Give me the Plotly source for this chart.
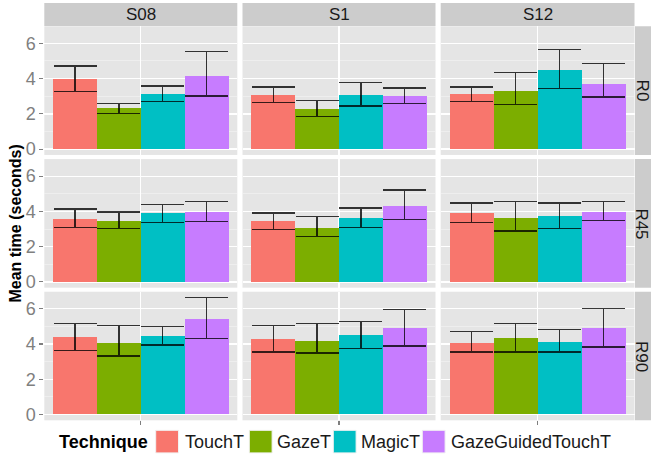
import plotly.graph_objects as go

# ---------------- data ----------------
subjects = ["S08", "S1", "S12"]
rotations = ["R0", "R45", "R90"]
techniques = ["TouchT", "GazeT", "MagicT", "GazeGuidedTouchT"]
colors = ["#F8766D", "#7CAE00", "#00BFC4", "#C77CFF"]

# mean time per (rotation, subject) -> list over techniques
mean_R0_S08 = [3.96, 2.36, 3.15, 4.13]
mean_R0_S1 = [3.08, 2.28, 3.08, 3.02]
mean_R0_S12 = [3.13, 3.32, 4.47, 3.72]
mean_R45_S08 = [3.58, 3.45, 3.91, 3.98]
mean_R45_S1 = [3.47, 3.08, 3.62, 4.32]
mean_R45_S12 = [3.91, 3.62, 3.74, 3.98]
mean_R90_S08 = [4.38, 4.08, 4.43, 5.45]
mean_R90_S1 = [4.26, 4.19, 4.49, 4.89]
mean_R90_S12 = [4.08, 4.32, 4.13, 4.89]

upper_R0_S08 = [4.72, 2.60, 3.58, 5.55]
upper_R0_S1 = [3.53, 2.74, 3.77, 3.47]
upper_R0_S12 = [3.53, 4.34, 5.64, 4.85]
upper_R45_S08 = [4.13, 3.96, 4.40, 4.58]
upper_R45_S1 = [3.91, 3.72, 4.19, 5.21]
upper_R45_S12 = [4.47, 4.55, 4.47, 4.55]
upper_R90_S08 = [5.15, 5.04, 4.98, 6.64]
upper_R90_S1 = [5.04, 5.15, 5.28, 5.96]
upper_R90_S12 = [4.70, 5.15, 4.81, 6.02]

lower_R0_S08 = [3.25, 2.04, 2.72, 3.02]
lower_R0_S1 = [2.66, 1.85, 2.45, 2.60]
lower_R0_S12 = [2.72, 2.53, 3.42, 2.96]
lower_R45_S08 = [3.08, 3.02, 3.38, 3.42]
lower_R45_S1 = [2.96, 2.57, 3.08, 3.55]
lower_R45_S12 = [3.38, 2.89, 3.04, 3.49]
lower_R90_S08 = [3.62, 3.32, 3.94, 4.30]
lower_R90_S1 = [3.55, 3.49, 3.74, 3.89]
lower_R90_S12 = [3.55, 3.55, 3.55, 3.83]

means = {
    ("R0", "S08"): mean_R0_S08, ("R0", "S1"): mean_R0_S1, ("R0", "S12"): mean_R0_S12,
    ("R45", "S08"): mean_R45_S08, ("R45", "S1"): mean_R45_S1, ("R45", "S12"): mean_R45_S12,
    ("R90", "S08"): mean_R90_S08, ("R90", "S1"): mean_R90_S1, ("R90", "S12"): mean_R90_S12,
}
uppers = {
    ("R0", "S08"): upper_R0_S08, ("R0", "S1"): upper_R0_S1, ("R0", "S12"): upper_R0_S12,
    ("R45", "S08"): upper_R45_S08, ("R45", "S1"): upper_R45_S1, ("R45", "S12"): upper_R45_S12,
    ("R90", "S08"): upper_R90_S08, ("R90", "S1"): upper_R90_S1, ("R90", "S12"): upper_R90_S12,
}
lowers = {
    ("R0", "S08"): lower_R0_S08, ("R0", "S1"): lower_R0_S1, ("R0", "S12"): lower_R0_S12,
    ("R45", "S08"): lower_R45_S08, ("R45", "S1"): lower_R45_S1, ("R45", "S12"): lower_R45_S12,
    ("R90", "S08"): lower_R90_S08, ("R90", "S1"): lower_R90_S1, ("R90", "S12"): lower_R90_S12,
}

y_ticks = [0, 2, 4, 6]

# ---------------- layout geometry (pixels) ----------------
W, H = 651, 459
FONT = "Liberation Sans, Arial, sans-serif"
col_px = [(44.3, 237.3), (242.5, 435.5), (440.7, 634.5)]
row_px = [(26.5, 156.3), (160.5, 290.2), (294.3, 424.0)]


def fx(px):
    return px / W


def fy(py):
    return 1 - py / H


bar_w = 0.225
x_pos = [1 - 1.5 * bar_w, 1 - 0.5 * bar_w, 1 + 0.5 * bar_w, 1 + 1.5 * bar_w]
x_range = [0.505, 1.495]
y_range = [-0.33, 6.97]

fig = go.Figure()
layout = dict(
    width=W, height=H,
    margin=dict(l=0, r=0, t=0, b=0),
    paper_bgcolor="white",
    plot_bgcolor="#E5E5E5",
    showlegend=False,
    font=dict(family=FONT, size=16, color="#1A1A1A"),
    bargap=0,
)

shapes = []
annotations = []

k = 0
for ri, rot in enumerate(rotations):
    for ci, subj in enumerate(subjects):
        k += 1
        xa = "x" if k == 1 else f"x{k}"
        ya = "y" if k == 1 else f"y{k}"
        m = means[(rot, subj)]
        up = uppers[(rot, subj)]
        lo = lowers[(rot, subj)]
        fig.add_trace(go.Bar(
            x=x_pos, y=m, width=[bar_w] * 4,
            marker=dict(color=colors, line=dict(width=0)),
            error_y=dict(
                type="data", symmetric=False,
                array=[u - v for u, v in zip(up, m)],
                arrayminus=[v - l for v, l in zip(m, lo)],
                color="rgba(0,0,0,0.78)", thickness=1.3, width=21.5,
            ),
            xaxis=xa, yaxis=ya, hoverinfo="skip",
        ))
        xkey = "xaxis" if k == 1 else f"xaxis{k}"
        ykey = "yaxis" if k == 1 else f"yaxis{k}"
        bottom = ri == len(rotations) - 1
        left = ci == 0
        layout[xkey] = dict(
            domain=[fx(col_px[ci][0]), fx(col_px[ci][1])],
            anchor=ya, range=x_range, tickvals=[1], ticktext=[""],
            showgrid=True, gridcolor="white", gridwidth=1.3,
            zeroline=False, showline=False,
            ticks="outside" if bottom else "", ticklen=4, tickwidth=1.2,
            tickcolor="#7F7F7F", fixedrange=True,
        )
        layout[ykey] = dict(
            domain=[fy(row_px[ri][1]), fy(row_px[ri][0])],
            anchor=xa, range=y_range, tickvals=y_ticks,
            showticklabels=left,
            tickfont=dict(size=18, color="#7F7F7F", family=FONT),
            ticks="outside" if left else "", ticklen=4, tickwidth=1.2,
            tickcolor="#7F7F7F",
            showgrid=True, gridcolor="white", gridwidth=1.3,
            minor=dict(dtick=1, tick0=0, showgrid=True, gridcolor="#F2F2F2",
                       gridwidth=0.7, ticks=""),
            zeroline=False, showline=False, fixedrange=True,
        )

# top strips
for ci, subj in enumerate(subjects):
    x0, x1 = col_px[ci]
    shapes.append(dict(type="rect", xref="paper", yref="paper",
                       x0=fx(x0), x1=fx(x1), y0=fy(26.3), y1=fy(3.0),
                       fillcolor="#CCCCCC", line=dict(width=0), layer="below"))
    annotations.append(dict(xref="paper", yref="paper", x=fx((x0 + x1) / 2),
                            y=fy(14.6), text=subj, showarrow=False,
                            font=dict(size=17, color="#1A1A1A", family=FONT),
                            xanchor="center", yanchor="middle"))
# right strips
for ri, rot in enumerate(rotations):
    y0, y1 = row_px[ri]
    shapes.append(dict(type="rect", xref="paper", yref="paper",
                       x0=fx(635.0), x1=fx(660.0), y0=fy(y1), y1=fy(y0),
                       fillcolor="#CCCCCC", line=dict(width=0), layer="below"))
    annotations.append(dict(xref="paper", yref="paper", x=fx(642.0),
                            y=fy((y0 + y1) / 2), text=rot, showarrow=False,
                            textangle=90, borderpad=0,
                            font=dict(size=17, color="#1A1A1A", family=FONT),
                            xanchor="center", yanchor="middle"))

# y axis title
annotations.append(dict(xref="paper", yref="paper", x=fx(16), y=fy(225.5),
                        text="<b>Mean time (seconds)</b>", showarrow=False,
                        textangle=-90,
                        font=dict(size=16, color="#000000", family=FONT),
                        xanchor="center", yanchor="middle"))

# legend
leg_y = 445.5
annotations.append(dict(xref="paper", yref="paper", x=fx(56.5), y=fy(leg_y),
                        text="<b>Technique</b>", showarrow=False,
                        font=dict(size=18, color="#000000", family=FONT),
                        xanchor="left", yanchor="middle"))
sw_x = [155.7, 249.3, 333.3, 422.3]
txt_x = [182.5, 275.0, 359.0, 449.0]
for i, t in enumerate(techniques):
    shapes.append(dict(type="rect", xref="paper", yref="paper",
                       x0=fx(sw_x[i]), x1=fx(sw_x[i] + 22.8),
                       y0=fy(leg_y + 11.4), y1=fy(leg_y - 11.4),
                       fillcolor=colors[i], line=dict(width=1, color="#F2F2F2")))
    annotations.append(dict(xref="paper", yref="paper", x=fx(txt_x[i]), y=fy(leg_y),
                            text=t, showarrow=False,
                            font=dict(size=18, color="#1A1A1A", family=FONT),
                            xanchor="left", yanchor="middle"))

layout["shapes"] = shapes
layout["annotations"] = annotations
fig.update_layout(**layout)

fig.write_html(
    "out.html",
    config={"displayModeBar": False, "staticPlot": True},
    post_script="document.body.style.margin='0';document.body.style.overflow='hidden';",
)
